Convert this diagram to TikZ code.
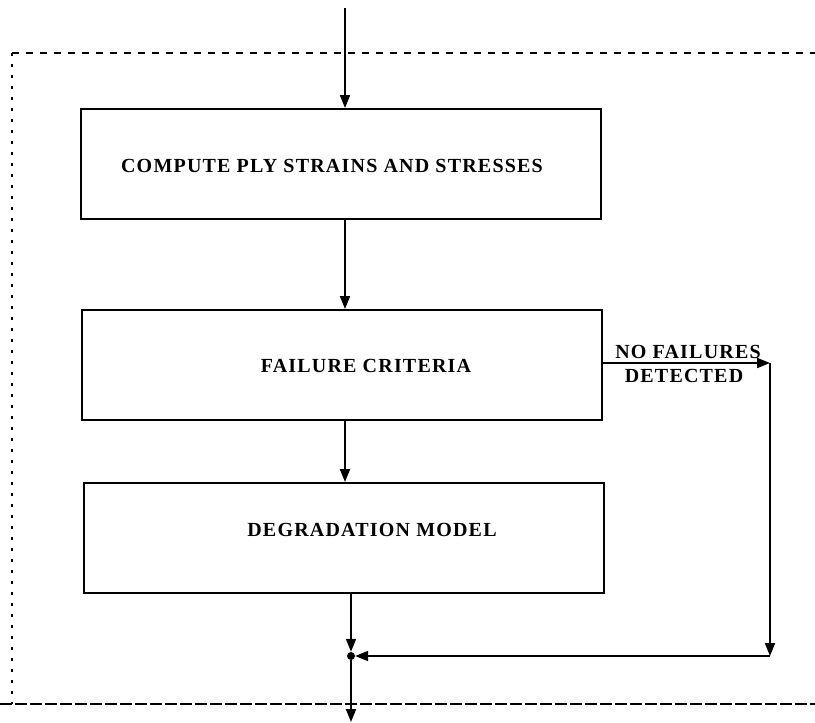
\documentclass[tikz,border=0pt]{standalone}
\usepackage{fontspec}
\setmainfont{Liberation Serif}
\newfontfamily\boxfont[LetterSpace=6]{Liberation Serif}
\usetikzlibrary{arrows.meta}
\begin{document}
\begin{tikzpicture}[x=1pt,y=-1pt,
  procbox/.style={draw,line width=2pt,minimum width=520pt,minimum height=110pt,anchor=north west,inner sep=0pt},
  lbl/.style={font=\boxfont\fontsize{20}{23}\selectfont\bfseries},
  flow/.style={line width=2pt,-{Triangle[length=13pt,width=10pt]}},
  frame/.style={line width=1.5pt}]
\useasboundingbox (0,0) rectangle (815,723);

% dashed boundary of the analysis loop
\coordinate (ftl) at (12,53);
\coordinate (ftr) at (815,53);
\coordinate (fbl) at (12,704);
\coordinate (fbr) at (815,704);
\coordinate (fb0) at (0,704);
\draw[frame,dash pattern=on 7pt off 7pt] (ftl) -- (ftr);
\draw[frame,line width=2pt,dash pattern=on 3pt off 8pt] (ftl) -- (fbl);
\draw[frame,dash pattern=on 12pt off 3pt] (fb0) -- (fbr);

% process boxes
\node[procbox] (b1) at (80,108) {};
\node[procbox] (b2) at (81,309) {};
\node[procbox] (b3) at (83,482) {};
\node[lbl] (t1) at (332,166) {COMPUTE PLY STRAINS AND STRESSES};
\node[lbl] (t2) at (366,366) {FAILURE CRITERIA};
\node[lbl] (t3) at (372,530) {DEGRADATION MODEL};

% connection points
\coordinate (col) at (345,0);
\coordinate (col2) at (351,0);
\coordinate (in) at (345,8);
\coordinate (side) at (770,363);
\coordinate (corner) at (770,656);
\node[circle,fill,inner sep=0pt,minimum size=8pt] (jn) at (351,656) {};
\coordinate (out) at (351,722);

% main flow
\draw[flow] (in) -- (b1.north -| col);
\draw[flow] (b1.south -| col) -- (b2.north -| col);
\draw[flow] (b2.south -| col) -- (b3.north -| col);
\draw[flow] (b3.south -| col2) -- (jn.north);
\draw[flow] (jn.south) -- (out);

% bypass when no failures are found
\draw[flow] (b2.east |- side) -- (side);
\draw[flow] (side) -- (corner);
\draw[flow] (corner) -- (jn.east);
\node[lbl,anchor=south] (nf) at (688,362) {NO FAILURES};
\node[lbl,anchor=north] (dt) at (684,366) {DETECTED};
\end{tikzpicture}
\end{document}
